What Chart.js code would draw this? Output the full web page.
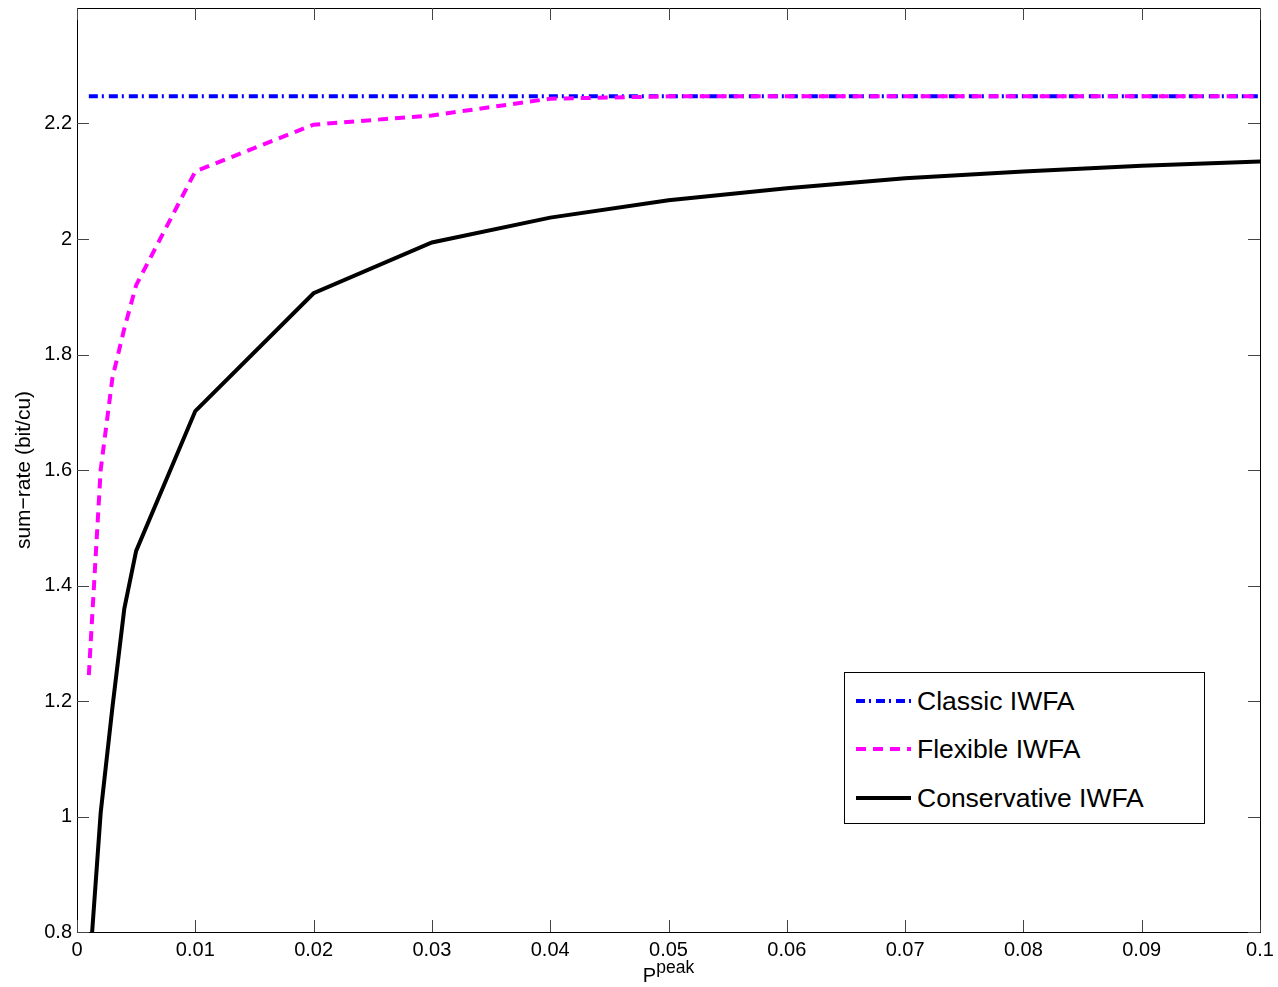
<!DOCTYPE html>
<html>
<head>
<meta charset="utf-8">
<script src="https://cdn.jsdelivr.net/npm/chart.js@4/dist/chart.umd.min.js"></script>
<style>
  body { margin: 0; background: #fff; }
  #wrap { position: relative; width: 1278px; height: 987px; font-family: "Liberation Sans", Arial, sans-serif; }
  #legend {
    position: absolute; left: 844px; top: 672px; width: 359px; height: 150px;
    border: 1px solid #000; background: #fff;
  }
  .row { position: absolute; left: 11px; height: 30px; display: flex; align-items: center; }
  .row span { font-size: 26.5px; color: #000; margin-left: 6px; }
  #xtitle { position: absolute; left: 0; width: 1337px; top: 964px; text-align: center; font-size: 20px; line-height: 22px; color: #000; }
  #xtitle sup { font-size: 17.5px; vertical-align: 9px; line-height: 0; }
</style>
</head>
<body>
<div id="wrap">
  <canvas id="chartcanvas" width="1278" height="987"></canvas>
  <div id="xtitle">P<sup>peak</sup></div>
  <div id="legend">
    <div class="row" style="top:13px">
      <svg width="55" height="8"><line x1="0" y1="4" x2="55" y2="4" stroke="#0000ff" stroke-width="4" stroke-dasharray="9 4 2 5"/></svg>
      <span>Classic IWFA</span>
    </div>
    <div class="row" style="top:61px">
      <svg width="55" height="8"><line x1="0" y1="4" x2="55" y2="4" stroke="#ff00ff" stroke-width="4" stroke-dasharray="10 7"/></svg>
      <span>Flexible IWFA</span>
    </div>
    <div class="row" style="top:110px">
      <svg width="55" height="8"><line x1="0" y1="4" x2="55" y2="4" stroke="#000" stroke-width="4"/></svg>
      <span>Conservative IWFA</span>
    </div>
  </div>
</div>
<script>
// values
let xPeak = [0.001, 0.002, 0.003, 0.004, 0.005, 0.01, 0.02, 0.03, 0.04, 0.05, 0.06, 0.07, 0.08, 0.09, 0.1]
let classic = [2.247, 2.247, 2.247, 2.247, 2.247, 2.247, 2.247, 2.247, 2.247, 2.247, 2.247, 2.247, 2.247, 2.247, 2.247]
let flexible = [1.245, 1.60, 1.76, 1.845, 1.92, 2.117, 2.198, 2.214, 2.243, 2.247, 2.247, 2.247, 2.247, 2.247, 2.247]
let conservative = [0.72, 1.006, 1.19, 1.36, 1.46, 1.702, 1.906, 1.994, 2.037, 2.067, 2.088, 2.105, 2.117, 2.127, 2.134]
let xTicks = [0, 0.01, 0.02, 0.03, 0.04, 0.05, 0.06, 0.07, 0.08, 0.09, 0.1]
let yTicks = [0.8, 1, 1.2, 1.4, 1.6, 1.8, 2, 2.2]

function pts(ys) {
    return xPeak.map((x, i) => ({ x: x, y: ys[i] }))
}

// matlab style box with inward ticks
const boxPlugin = {
    id: 'box',
    afterDraw(chart) {
        let c = chart.ctx, a = chart.chartArea
        let xs = chart.scales.x, ys = chart.scales.y
        c.save()
        c.strokeStyle = '#000'
        c.lineWidth = 1
        c.strokeRect(Math.round(a.left) + 0.5, Math.round(a.top) + 0.5, Math.round(a.right - a.left), Math.round(a.bottom - a.top))
        c.strokeStyle = '#444'
        c.beginPath()
        for (let v of xTicks) {
            let px = Math.round(xs.getPixelForValue(v)) + 0.5
            c.moveTo(px, a.bottom); c.lineTo(px, a.bottom - 12)
            c.moveTo(px, a.top); c.lineTo(px, a.top + 12)
        }
        for (let v of yTicks) {
            let py = Math.round(ys.getPixelForValue(v)) + 0.5
            c.moveTo(a.left, py); c.lineTo(a.left + 12, py)
            c.moveTo(a.right, py); c.lineTo(a.right - 12, py)
        }
        c.stroke()
        c.restore()
    }
}

let ctx = document.getElementById('chartcanvas')
let tickFont = { family: '"Liberation Sans", Arial, sans-serif', size: 20 }

let chart = new Chart(ctx, {
    type: 'line',
    data: {
        datasets: [{
                label: 'Classic IWFA',
                data: pts(classic),
                borderColor: '#0000ff',
                borderWidth: 4,
                borderDash: [9, 4, 2, 5],
                pointRadius: 0,
                tension: 0,
                order: 3,
                clip: 0
            },
            {
                label: 'Flexible IWFA',
                data: pts(flexible),
                borderColor: '#ff00ff',
                borderWidth: 4,
                borderDash: [10, 7],
                pointRadius: 0,
                tension: 0,
                order: 2,
                clip: 0
            },
            {
                label: 'Conservative IWFA',
                data: pts(conservative),
                borderColor: '#000000',
                borderWidth: 4,
                pointRadius: 0,
                tension: 0,
                order: 1,
                clip: 0
            }
        ]
    },
    options: {
        responsive: false,
        animation: false,
        devicePixelRatio: 1,
        layout: { padding: { top: 8, right: 18, left: 0, bottom: 0 } },
        plugins: {
            legend: { display: false },
            tooltip: { enabled: false }
        },
        scales: {
            x: {
                type: 'linear',
                min: 0,
                max: 0.1,
                grid: { display: false, drawTicks: false },
                border: { display: false },
                afterBuildTicks: (s) => { s.ticks = xTicks.map(v => ({ value: v })) },
                afterFit: (s) => { s.height = 55; s.paddingLeft = 0; s.paddingRight = 0 },
                ticks: {
                    font: tickFont,
                    color: '#000',
                    padding: 6,
                    maxRotation: 0,
                    callback: (v) => String(Number(v.toFixed(2)))
                }
            },
            y: {
                type: 'linear',
                min: 0.8,
                max: 2.4,
                grid: { display: false, drawTicks: false },
                border: { display: false },
                afterBuildTicks: (s) => { s.ticks = yTicks.map(v => ({ value: v })) },
                afterFit: (s) => { s.width = 77; s.paddingTop = 0; s.paddingBottom = 0 },
                title: {
                    display: true,
                    text: 'sum\u2212rate (bit/cu)',
                    font: { family: '"Liberation Sans", Arial, sans-serif', size: 21 },
                    color: '#000',
                    padding: { top: 12, bottom: 0 }
                },
                ticks: {
                    font: tickFont,
                    color: '#000',
                    padding: 5,
                    callback: (v) => String(Number(v.toFixed(1)))
                }
            }
        }
    },
    plugins: [boxPlugin]
});
</script>
</body>
</html>
